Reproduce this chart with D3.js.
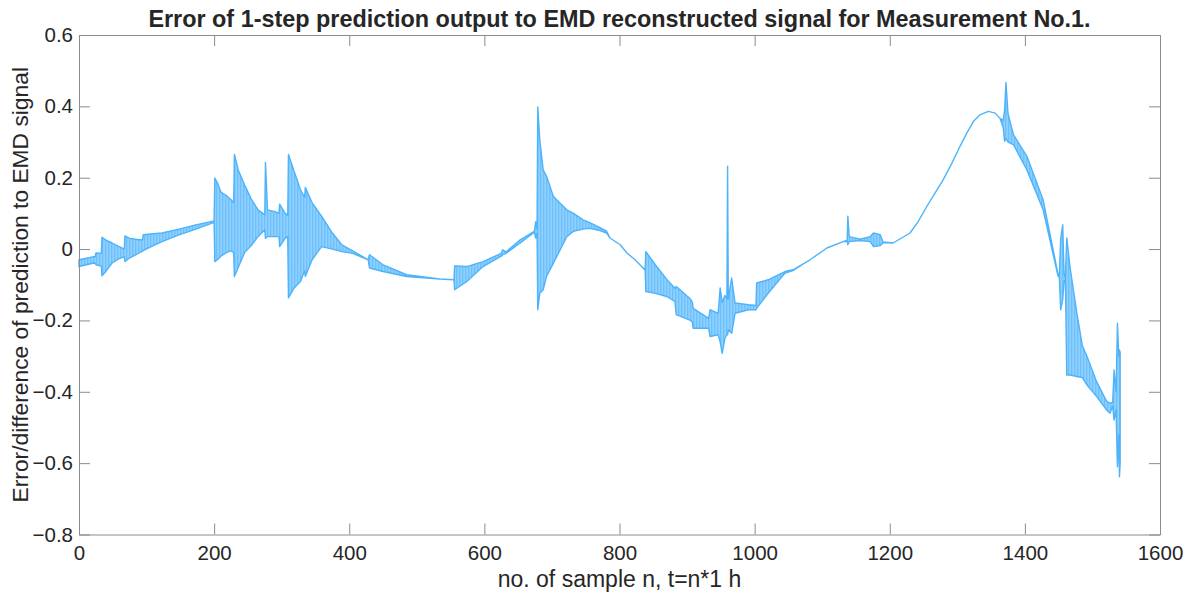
<!DOCTYPE html>
<html>
<head>
<meta charset="utf-8">
<script src="https://cdn.jsdelivr.net/npm/d3@7"></script>
<style>
  body { margin: 0; background: #fff; }
  svg text { font-family: "Liberation Sans", Arial, sans-serif; fill: #262626; }
</style>
</head>
<body>
<div id="chart-area"></div>
<script>
// envelope of the 1-step prediction error (sample n, lower, upper)
const sampleN = [0, 22, 24, 25, 33, 34, 40, 49, 58, 67, 68, 75, 89, 94, 95, 110, 123, 148, 173, 200,
  201, 205, 210, 218, 225, 229, 230, 236, 245, 255, 265, 275, 276, 279, 290, 296, 297, 305, 309, 310,
  318, 328, 334, 335, 345, 359, 375, 389, 405, 428, 430, 450, 485, 534, 555, 556, 574, 598, 625, 627,
  632, 653, 674, 676, 678, 679, 682, 687, 692, 702, 707, 722, 732, 746, 756, 771, 781, 786, 801, 811,
  823, 835, 838, 839, 853, 870, 882, 884, 905, 908, 909, 932, 934, 946, 949, 952, 956, 959, 960, 961,
  966, 971, 991, 1002, 1003, 1020, 1045, 1057, 1082, 1107, 1131, 1137, 1138, 1140, 1156, 1171, 1176, 1186, 1190, 1205,
  1230, 1242, 1255, 1267, 1279, 1292, 1304, 1314, 1324, 1334, 1346, 1356, 1363, 1368, 1370, 1372, 1375, 1383, 1403, 1427,
  1449, 1451, 1453, 1456, 1458, 1460, 1462, 1467, 1477, 1485, 1492, 1506, 1521, 1526, 1530, 1532, 1535, 1537, 1539, 1540, 1541];

const lowerErr = [-0.049, -0.039, -0.040, -0.044, -0.048, -0.075, -0.062, -0.039, -0.028, -0.021, -0.035, -0.025, -0.011, -0.006, -0.004, 0.010, 0.021, 0.040, 0.056, 0.075,
  -0.035, -0.030, -0.020, -0.010, -0.005, -0.010, -0.077, -0.050, -0.010, 0.010, 0.035, 0.054, 0.030, 0.035, 0.035, 0.035, 0.007, 0.030, 0.035, -0.137,
  -0.110, -0.090, -0.060, -0.077, -0.030, 0.007, 0.000, -0.007, -0.012, -0.030, -0.053, -0.063, -0.077, -0.084, -0.086, -0.114, -0.091, -0.049, -0.020, -0.016,
  -0.012, 0.017, 0.047, 0.031, 0.045, -0.170, -0.124, -0.114, -0.077, -0.040, -0.021, 0.035, 0.050, 0.056, 0.058, 0.052, 0.045, 0.031, 0.012, -0.011,
  -0.030, -0.053, -0.060, -0.119, -0.124, -0.133, -0.147, -0.184, -0.200, -0.205, -0.222, -0.222, -0.245, -0.240, -0.260, -0.292, -0.250, -0.240, -0.240, -0.226,
  -0.236, -0.180, -0.170, -0.170, -0.166, -0.124, -0.067, -0.060, -0.030, 0.003, 0.021, 0.022, 0.012, 0.021, 0.024, 0.021, 0.007, 0.010, 0.018, 0.017,
  0.045, 0.077, 0.120, 0.157, 0.194, 0.241, 0.288, 0.325, 0.358, 0.377, 0.386, 0.381, 0.367, 0.340, 0.302, 0.310, 0.300, 0.293, 0.222, 0.110,
  -0.075, -0.080, -0.170, -0.142, -0.090, -0.085, -0.353, -0.353, -0.357, -0.360, -0.381, -0.413, -0.451, -0.460, -0.440, -0.479, -0.450, -0.610, -0.520, -0.638, -0.600];

const upperErr = [-0.030, -0.021, -0.022, -0.011, -0.012, 0.033, 0.025, 0.017, 0.008, 0.000, 0.037, 0.030, 0.026, 0.026, 0.040, 0.043, 0.045, 0.056, 0.068, 0.079,
  0.199, 0.185, 0.160, 0.150, 0.138, 0.130, 0.265, 0.220, 0.180, 0.140, 0.110, 0.096, 0.243, 0.110, 0.105, 0.100, 0.126, 0.100, 0.095, 0.265,
  0.220, 0.165, 0.145, 0.173, 0.130, 0.092, 0.045, 0.012, -0.005, -0.030, -0.016, -0.044, -0.072, -0.084, -0.086, -0.047, -0.049, -0.035, -0.012, -0.002,
  -0.008, 0.026, 0.050, 0.077, 0.055, 0.398, 0.307, 0.222, 0.204, 0.148, 0.138, 0.110, 0.100, 0.082, 0.074, 0.060, 0.050, 0.031, 0.012, -0.011,
  -0.030, -0.053, -0.055, -0.007, -0.044, -0.085, -0.110, -0.105, -0.140, -0.150, -0.166, -0.194, -0.170, -0.180, -0.109, -0.150, -0.130, -0.140, 0.232, -0.140,
  -0.081, -0.151, -0.156, -0.158, -0.095, -0.086, -0.063, -0.058, -0.030, 0.003, 0.021, 0.025, 0.092, 0.035, 0.028, 0.035, 0.045, 0.040, 0.020, 0.017,
  0.045, 0.077, 0.120, 0.157, 0.194, 0.241, 0.288, 0.325, 0.358, 0.377, 0.386, 0.381, 0.367, 0.360, 0.390, 0.467, 0.380, 0.321, 0.260, 0.138,
  -0.070, -0.075, 0.028, 0.068, -0.070, -0.081, 0.031, -0.053, -0.180, -0.270, -0.301, -0.371, -0.427, -0.432, -0.430, -0.339, -0.400, -0.208, -0.300, -0.283, -0.290];

const xTicks = [0, 200, 400, 600, 800, 1000, 1200, 1400, 1600];
const yTicks = [-0.8, -0.6, -0.4, -0.2, 0, 0.2, 0.4, 0.6];

const titleText = "Error of 1-step prediction output to EMD reconstructed signal for Measurement No.1.";
const xLabel = "no. of sample n, t=n*1 h";
const yLabel = "Error/difference of prediction to EMD signal";

const w = 1192;
const h = 601;
const margin = { left: 79, right: 32, top: 35, bottom: 66.5 };
const lineColor = "#4db3fa";
const axisColor = "#8c8c8c";

const svg = d3.select("#chart-area")
  .append("svg")
  .attr("width", w)
  .attr("height", h);

const x = d3.scaleLinear()
  .domain([0, 1600])
  .range([margin.left, w - margin.right]);

const y = d3.scaleLinear()
  .domain([-0.8, 0.6])
  .range([h - margin.bottom, margin.top]);

// vertical hatching so the band looks like a dense zig-zag line
const hatch = svg.append("defs")
  .append("pattern")
  .attr("id", "hatch")
  .attr("patternUnits", "userSpaceOnUse")
  .attr("width", 3)
  .attr("height", 10);
hatch.append("rect")
  .attr("width", 3).attr("height", 10)
  .attr("fill", lineColor).attr("fill-opacity", 0.62);
hatch.append("rect")
  .attr("width", 1.4).attr("height", 10)
  .attr("fill", lineColor).attr("fill-opacity", 0.55);

const points = sampleN.map((n, i) => ({ n: n, lo: lowerErr[i], hi: upperErr[i] }));

const band = d3.area()
  .x(d => x(d.n))
  .y0(d => y(d.lo))
  .y1(d => y(d.hi));

svg.append("path")
  .datum(points)
  .attr("d", band)
  .attr("fill", "url(#hatch)")
  .attr("stroke", lineColor)
  .attr("stroke-width", 1.4)
  .attr("stroke-linejoin", "round");

// axes, ticks pointing inward on all four sides
const xAxis = d3.axisBottom(x).tickValues(xTicks).tickSizeInner(-11).tickSizeOuter(0).tickPadding(11)
  .tickFormat(d3.format("d"));
const yAxis = d3.axisLeft(y).tickValues(yTicks).tickSizeInner(-11).tickSizeOuter(0).tickPadding(6)
  .tickFormat(d => d === 0 ? "0" : d3.format(".1f")(d));

const gx = svg.append("g")
  .attr("transform", `translate(0,${h - margin.bottom})`)
  .call(xAxis);
const gy = svg.append("g")
  .attr("transform", `translate(${margin.left},0)`)
  .call(yAxis);
const gxTop = svg.append("g")
  .attr("transform", `translate(0,${margin.top})`)
  .call(d3.axisTop(x).tickValues(xTicks).tickSizeInner(-11).tickSizeOuter(0).tickFormat(""));
const gyRight = svg.append("g")
  .attr("transform", `translate(${w - margin.right},0)`)
  .call(d3.axisRight(y).tickValues(yTicks).tickSizeInner(-11).tickSizeOuter(0).tickFormat(""));

[gx, gy, gxTop, gyRight].forEach(g => {
  g.selectAll("path, line").attr("stroke", axisColor).attr("stroke-width", 1);
  g.selectAll("text")
    .style("font-family", "'Liberation Sans', Arial, sans-serif")
    .style("font-size", "20.5px")
    .attr("fill", "#262626");
});

svg.append("text")
  .attr("x", (margin.left + w - margin.right) / 2)
  .attr("y", 27)
  .attr("text-anchor", "middle")
  .style("font-size", "23.4px")
  .style("font-weight", "bold")
  .text(titleText);

svg.append("text")
  .attr("x", (margin.left + w - margin.right) / 2)
  .attr("y", 587)
  .attr("text-anchor", "middle")
  .style("font-size", "23px")
  .text(xLabel);

svg.append("text")
  .attr("transform", `translate(27.5,${(margin.top + h - margin.bottom) / 2}) rotate(-90)`)
  .attr("text-anchor", "middle")
  .style("font-size", "22.8px")
  .text(yLabel);
</script>
</body>
</html>
